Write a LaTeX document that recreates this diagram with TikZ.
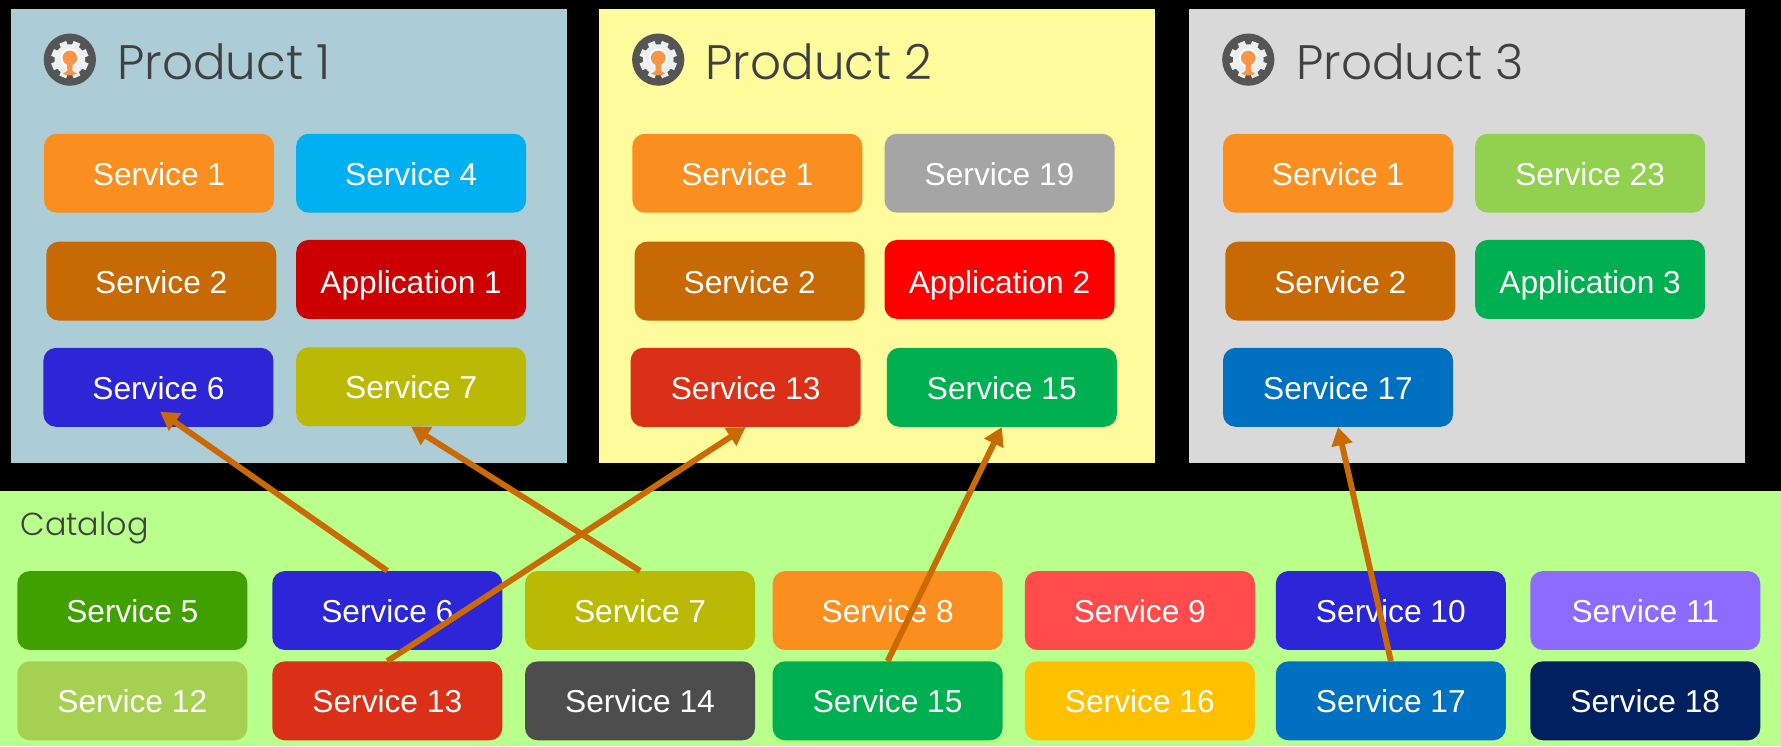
\documentclass[tikz,border=0pt]{standalone}
\usepackage{fontspec}
\setmainfont{Liberation Sans}
\newfontfamily\titlefont{Poppins Light}
\usetikzlibrary{arrows.meta}
\definecolor{cOrange}{HTML}{FA8F1F}
\definecolor{cCyan}{HTML}{00B0F0}
\definecolor{cBrown}{HTML}{C76A05}
\definecolor{cDarkRed}{HTML}{CC0000}
\definecolor{cBlue}{HTML}{2C26D6}
\definecolor{cOlive}{HTML}{BABA06}
\definecolor{cGray}{HTML}{A5A5A5}
\definecolor{cRed}{HTML}{FF0000}
\definecolor{cBrick}{HTML}{DA3017}
\definecolor{cGreen}{HTML}{00B050}
\definecolor{cLime}{HTML}{92D050}
\definecolor{cSea}{HTML}{0070C0}
\definecolor{cLeaf}{HTML}{3FA000}
\definecolor{cCoral}{HTML}{FF4B4B}
\definecolor{cViolet}{HTML}{8E6BFF}
\definecolor{cMoss}{HTML}{A6D052}
\definecolor{cCharcoal}{HTML}{4D4D4D}
\definecolor{cAmber}{HTML}{FFC000}
\definecolor{cNavy}{HTML}{002060}
\definecolor{cPanelA}{HTML}{ACCDD6}
\definecolor{cPanelB}{HTML}{FDFB9C}
\definecolor{cPanelC}{HTML}{D9D9D9}
\definecolor{cCatalog}{HTML}{B9FF8B}
\definecolor{cLink}{HTML}{C96A04}
\definecolor{cTitle}{HTML}{404040}
\definecolor{cIcon}{HTML}{555555}
\definecolor{cGear}{HTML}{EDF0F0}
\definecolor{cPerson}{HTML}{F79646}
\tikzset{
  x=1pt,y=-1pt,
  svc/.style={fill=#1,rounded corners=11pt,minimum width=202.5pt,minimum height=69.5pt,inner sep=0pt,
    text=white,text height=21.4pt,text depth=0pt,font=\fontsize{27.9pt}{30pt}\selectfont},
  appbox/.style={svc=#1,text height=24.4pt},
  panel/.style={fill=#1,draw=none,minimum width=489.5pt,minimum height=400pt,inner sep=0pt},
  ptitle/.style={anchor=base west,inner sep=0pt,text=cTitle,font=\titlefont\fontsize{42.6pt}{46pt}\selectfont},
  ctitle/.style={anchor=base west,inner sep=0pt,text=cTitle,font=\titlefont\fontsize{28pt}{30pt}\selectfont},
  link/.style={draw=cLink,line width=5.2pt,-{Triangle[length=16pt,width=18pt]}},
  gearicon/.pic={
    \fill[cIcon] (0,0) circle[radius=23];
    \foreach \a in {0,45,...,315}
      \fill[cGear,rotate=\a+22.5] (-3.2,-16.5) rectangle (3.2,0);
    \fill[cGear] (0,0) circle[radius=13.5];
    \fill[white] (0,-1.5) circle[radius=8.2];
    \fill[cPerson] (0,-1.5) circle[radius=6.5];
    \fill[cPerson] (-2.6,2) -- (2.6,2) -- (2.2,9.5) .. controls (2.6,11) and (5,11.5) .. (6.2,12)
      .. controls (5,14.5) and (-5,14.5) .. (-6.2,12) .. controls (-5,11.5) and (-2.6,11) .. (-2.2,9.5) -- cycle;
  }
}
\begin{document}
\begin{tikzpicture}
\useasboundingbox (0,0) rectangle (1568,656.8);
\fill[black] (0,0) rectangle (1568,656.8);
\node[panel=cPanelA] (prodA) at (254.5,208) {};
\node[panel=cPanelB] (prodB) at (772.2,208) {};
\node[panel=cPanelC] (prodC) at (1291.5,208) {};
\fill[cCatalog] (0,432.7) rectangle (1568,656.8);
\pic at (61.5,52.5) {gearicon};
\pic at (579.5,52.5) {gearicon};
\pic at (1099,52.5) {gearicon};
\node[ptitle] (tA) at (103,70) {Product 1};
\node[ptitle] (tB) at (621,70) {Product 2};
\node[ptitle] (tC) at (1141,70) {Product 3};
\node[ctitle] (tCat) at (18,471.5) {Catalog};
% Product 1
\node[svc=cOrange] (aOne) at (140,152.5) {Service 1};
\node[svc=cCyan] (aFour) at (362,152.5) {Service 4};
\node[svc=cBrown] (aTwo) at (142,247.5) {Service 2};
\node[appbox=cDarkRed] (aApp) at (362,246) {Application 1};
\node[svc=cBlue] (aSix) at (139.5,341) {Service 6};
\node[svc=cOlive] (aSeven) at (362,340.5) {Service 7};
% Product 2
\node[svc=cOrange] (bOne) at (658,152.5) {Service 1};
\node[svc=cGray] (bNineteen) at (880,152.5) {Service 19};
\node[svc=cBrown] (bTwo) at (660,247.5) {Service 2};
\node[appbox=cRed] (bApp) at (880,246) {Application 2};
\node[svc=cBrick] (bThirteen) at (656.5,341) {Service 13};
\node[svc=cGreen] (bFifteen) at (882,341) {Service 15};
% Product 3
\node[svc=cOrange] (cOne) at (1178,152.5) {Service 1};
\node[svc=cLime] (cTwentyThree) at (1400,152.5) {Service 23};
\node[svc=cBrown] (cTwo) at (1180,247.5) {Service 2};
\node[appbox=cGreen] (cApp) at (1400,246) {Application 3};
\node[svc=cSea] (cSeventeen) at (1178,341) {Service 17};
% Catalog
\node[svc=cLeaf] (sFive) at (116.5,537.5) {Service 5};
\node[svc=cBlue] (sSix) at (341,537.5) {Service 6};
\node[svc=cOlive] (sSeven) at (563.5,537.5) {Service 7};
\node[svc=cOrange] (sEight) at (781.5,537.5) {Service 8};
\node[svc=cCoral] (sNine) at (1003.5,537.5) {Service 9};
\node[svc=cBlue] (sTen) at (1224.5,537.5) {Service 10};
\node[svc=cViolet] (sEleven) at (1448.5,537.5) {Service 11};
\node[svc=cMoss] (sTwelve) at (116.5,617) {Service 12};
\node[svc=cBrick] (sThirteen) at (341,617) {Service 13};
\node[svc=cCharcoal] (sFourteen) at (563.5,617) {Service 14};
\node[svc=cGreen] (sFifteen) at (781.5,617) {Service 15};
\node[svc=cAmber] (sSixteen) at (1003.5,617) {Service 16};
\node[svc=cSea] (sSeventeen) at (1224.5,617) {Service 17};
\node[svc=cNavy] (sEighteen) at (1448.5,617) {Service 18};
% Links
\draw[link] (sSix.north) -- ([xshift=1.5pt,yshift=13.5pt]aSix.south);
\draw[link] (sSeven.north) -- (aSeven.south);
\draw[link] (sThirteen.north) -- (bThirteen.south);
\draw[link] (sFifteen.north) -- (bFifteen.south);
\draw[link] (sSeventeen.north) -- (cSeventeen.south);
\end{tikzpicture}
\end{document}
